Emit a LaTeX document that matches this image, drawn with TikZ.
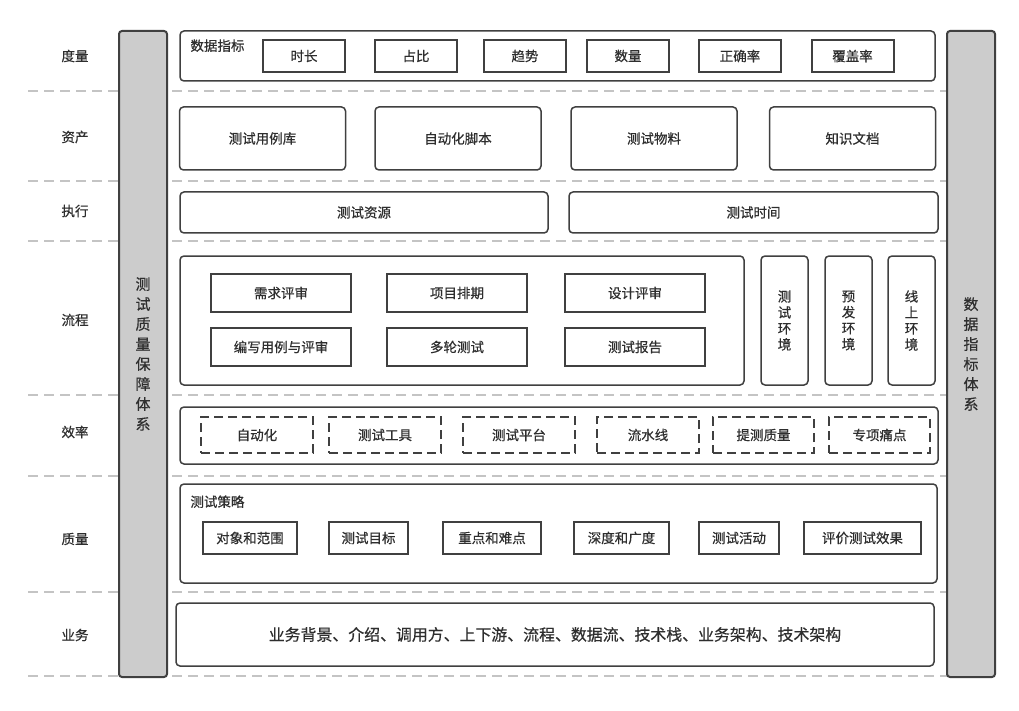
\documentclass[tikz,border=0pt]{standalone}
\usepackage{fontspec}
\setmainfont{Noto Sans CJK SC}[FakeBold=0.5]
\usetikzlibrary{positioning}
\definecolor{edge}{HTML}{404040}
\definecolor{ink}{HTML}{2E2E2E}
\definecolor{barfill}{HTML}{CCCCCC}
\definecolor{sepline}{HTML}{C4C4C4}

\begin{document}
\begin{tikzpicture}[x=1pt, y=-1pt,
  txt/.style={text=ink, font=\fontsize{13.5}{16}\selectfont},
  pane/.style={draw=edge, line width=1.5pt, rounded corners=4pt, inner sep=0pt, txt},
  cell/.style={draw=edge, line width=2pt, inner sep=0pt, txt},
  dashcell/.style={draw=edge, line width=1.8pt, dash pattern=on 9pt off 5pt, inner sep=0pt, txt},
  sidebar/.style={draw=edge, fill=barfill, line width=2pt, rounded corners=3pt, inner sep=0pt,
    minimum width=48, minimum height=646, align=center, text=ink, font=\fontsize{15}{20}\selectfont},
  rowlabel/.style={txt},
  sep/.style={draw=sepline, line width=1.5pt, dash pattern=on 10pt off 6pt}]

  \fill[white] (0,0) rectangle (1019,711);
  \useasboundingbox (0,0) rectangle (1019,711);

  % row separators
  \foreach \y in {91,181,241,395,476,592,676}
    \draw[sep] (28,\y) -- (947,\y);

  % side bars
  \node[sidebar] (lbar) at (143,354) {测\\试\\质\\量\\保\\障\\体\\系};
  \node[sidebar] (rbar) at (971,354) {数\\据\\指\\标\\体\\系};

  % row labels
  \node[rowlabel] (l1) at (75,56) {度量};
  \node[rowlabel] (l2) at (75,137) {资产};
  \node[rowlabel] (l3) at (75,211) {执行};
  \node[rowlabel] (l4) at (75,320) {流程};
  \node[rowlabel] (l5) at (75,432) {效率};
  \node[rowlabel] (l6) at (75,539) {质量};
  \node[rowlabel] (l7) at (75,635) {业务};

  % layer: metrics
  \node[pane, minimum width=755, minimum height=50] (metrics) at (557.5,56) {};
  \node[txt, inner sep=0pt, below right=9pt and 11pt of metrics.north west] (metricstitle) {数据指标};
  \begin{scope}[every node/.append style={minimum width=82, minimum height=32}]
    \node[cell] (m1) at (304,56) {时长};
    \node[cell] (m2) at (416,56) {占比};
    \node[cell] (m3) at (525,56) {趋势};
    \node[cell] (m4) at (628,56) {数量};
    \node[cell] (m5) at (740,56) {正确率};
    \node[cell] (m6) at (852.5,56) {覆盖率};
  \end{scope}

  % layer: assets
  \begin{scope}[every node/.append style={minimum width=166, minimum height=63}]
    \node[pane] (a1) at (262.5,138.5) {测试用例库};
    \node[pane] (a2) at (458,138.5) {自动化脚本};
    \node[pane] (a3) at (654,138.5) {测试物料};
    \node[pane] (a4) at (852.5,138.5) {知识文档};
  \end{scope}

  % layer: execution
  \node[pane, minimum width=368, minimum height=41] (e1) at (364,212.5) {测试资源};
  \node[pane, minimum width=369, minimum height=41] (e2) at (753.5,212.5) {测试时间};

  % layer: process
  \node[pane, minimum width=564, minimum height=129] (process) at (462,320.5) {};
  \begin{scope}[every node/.append style={minimum width=140, minimum height=38}]
    \node[cell] (p1) at (281,293) {需求评审};
    \node[cell] (p2) at (457,293) {项目排期};
    \node[cell] (p3) at (635,293) {设计评审};
    \node[cell] (p4) at (281,347) {编写用例与评审};
    \node[cell] (p5) at (457,347) {多轮测试};
    \node[cell] (p6) at (635,347) {测试报告};
  \end{scope}
  \begin{scope}[every node/.append style={minimum width=47, minimum height=129, align=center,
      font=\fontsize{13.5}{17}\selectfont}]
    \node[pane] (env1) at (784.5,320.5) {测\\试\\环\\境};
    \node[pane] (env2) at (848.5,320.5) {预\\发\\环\\境};
    \node[pane] (env3) at (911.5,320.5) {线\\上\\环\\境};
  \end{scope}

  % layer: efficiency
  \node[pane, minimum width=758, minimum height=57] (effic) at (559,435.5) {};
  \begin{scope}[every node/.append style={minimum height=36}]
    \node[dashcell, minimum width=112] (f1) at (257,435) {自动化};
    \node[dashcell, minimum width=112] (f2) at (385,435) {测试工具};
    \node[dashcell, minimum width=112] (f3) at (519,435) {测试平台};
    \node[dashcell, minimum width=102] (f4) at (648,435) {流水线};
    \node[dashcell, minimum width=101] (f5) at (763.5,435) {提测质量};
    \node[dashcell, minimum width=101] (f6) at (879.5,435) {专项痛点};
  \end{scope}

  % layer: quality
  \node[pane, minimum width=757, minimum height=99] (quality) at (558.5,533.5) {};
  \node[txt, inner sep=0pt, below right=12pt and 11pt of quality.north west] (qualitytitle) {测试策略};
  \begin{scope}[every node/.append style={minimum height=32}]
    \node[cell, minimum width=94] (q1) at (250,538) {对象和范围};
    \node[cell, minimum width=79] (q2) at (368.5,538) {测试目标};
    \node[cell, minimum width=98] (q3) at (492,538) {重点和难点};
    \node[cell, minimum width=95] (q4) at (621.5,538) {深度和广度};
    \node[cell, minimum width=80] (q5) at (739,538) {测试活动};
    \node[cell, minimum width=117] (q6) at (862.5,538) {评价测试效果};
  \end{scope}

  % layer: business
  \node[pane, minimum width=758, minimum height=63, font=\fontsize{15.9}{18}\selectfont] (biz) at (555,634.5)
    {业务背景、介绍、调用方、上下游、流程、数据流、技术栈、业务架构、技术架构};
\end{tikzpicture}
\end{document}
